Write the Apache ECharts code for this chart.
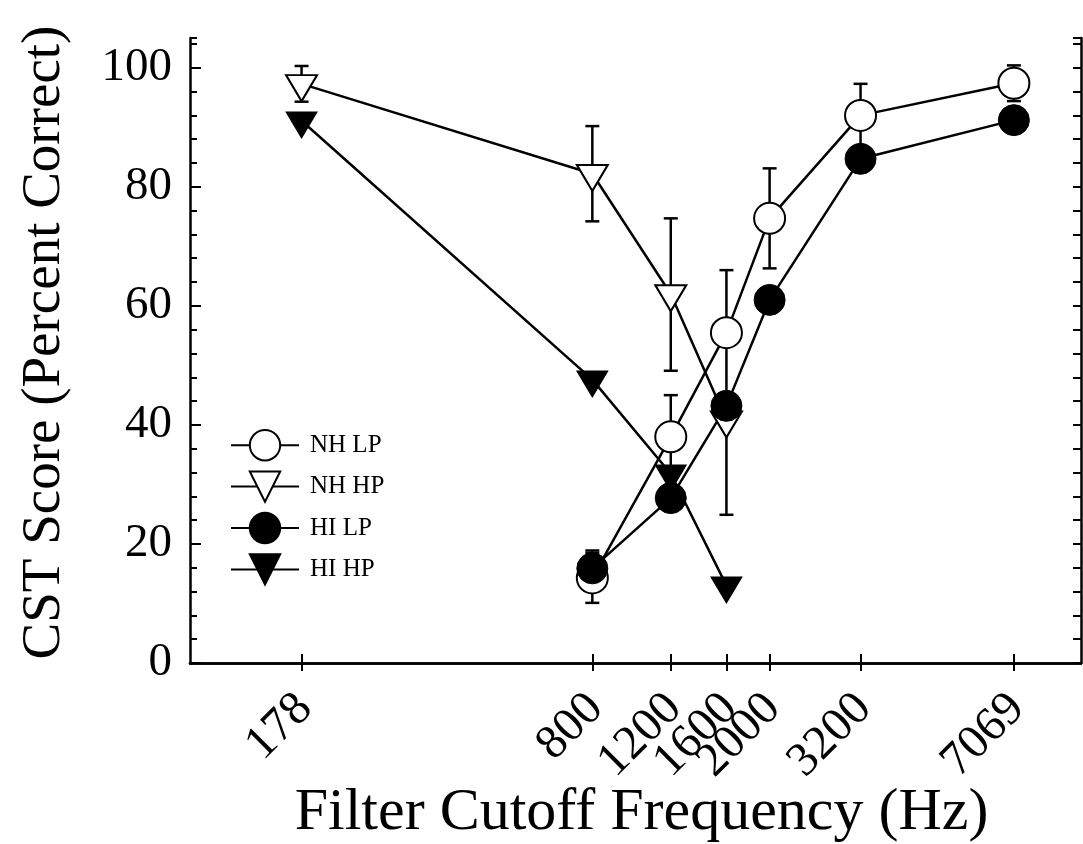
<!DOCTYPE html>
<html>
<head>
<meta charset="utf-8">
<script src="https://cdn.jsdelivr.net/npm/echarts@6/dist/echarts.min.js"></script>
<style>
  html, body { margin: 0; padding: 0; background: #fff; }
  #chart { width: 1083px; height: 844px; }
</style>
</head>
<body>
<div id="chart"></div>
<script>
// tick positions on the (log) frequency axis
const tickFreqs = [178, 800, 1200, 1600, 2000, 3200, 7069];

// NH LP - open circles
const nhLpFreq = [800, 1200, 1600, 2000, 3200, 7069];
const nhLp = [14.3, 38, 55.5, 74.7, 92, 97.4];
const nhLpErr = [4.2, 7, 1.2, 8.4, 5.3, 3];

// NH HP - open triangles
const nhHpFreq = [178, 800, 1200, 1600];
const nhHp = [97.3, 82.2, 62, 40.8];
const nhHpErrUp = [3, 8, 12.7, 25.2];
const nhHpErrDown = [3, 8, 12.9, 15.9];

// HI LP - filled circles
const hiLpFreq = [800, 1200, 1600, 2000, 3200, 7069];
const hiLp = [15.9, 27.7, 43.2, 61, 84.7, 91.2];
const hiLpErr = [3, 0, 0, 0, 0, 0];

// HI HP - filled triangles
const hiHpFreq = [178, 800, 1200, 1600];
const hiHp = [91.1, 47.6, 31.8, 13];

const FONT = "Liberation Serif";
const TRI = "path://M0,0L20,0L10,17Z";
const lg = Math.log10;

function pts(fr, vals) {
  return fr.map((f, i) => [lg(f), vals[i]]);
}
function bars(fr, vals, up, down) {
  const out = [];
  fr.forEach((f, i) => {
    if (up[i] > 0) out.push([lg(f), vals[i] - down[i], vals[i] + up[i]]);
  });
  return out;
}

function renderErr(params, api) {
  const x = api.value(0);
  const lo = api.coord([x, api.value(1)]);
  const hi = api.coord([x, api.value(2)]);
  const w = 7;
  const st = { stroke: "#000", lineWidth: 2.5 };
  return {
    type: "group",
    children: [
      { type: "line", shape: { x1: lo[0], y1: lo[1], x2: hi[0], y2: hi[1] }, style: st },
      { type: "line", shape: { x1: lo[0] - w, y1: lo[1], x2: lo[0] + w, y2: lo[1] }, style: st },
      { type: "line", shape: { x1: hi[0] - w, y1: hi[1], x2: hi[0] + w, y2: hi[1] }, style: st }
    ]
  };
}

const chart = echarts.init(document.getElementById("chart"));

const lineStyle = { color: "#000", width: 2.5 };
const xBase = { type: "value", min: 2, max: 4, splitLine: { show: false } };
const yBase = { type: "value", min: 0, max: 105, splitLine: { show: false } };

chart.setOption({
  animation: false,
  backgroundColor: "#fff",
  grid: { left: 190, right: 2, top: 38, bottom: 181, outerBoundsMode: "none", containLabel: false },
  legend: {
    orient: "vertical",
    left: 225,
    top: 424,
    itemWidth: 68,
    itemHeight: 38,
    itemGap: 9,
    selectedMode: false,
    data: ["NH LP", "NH HP", "HI LP", "HI HP"],
    textStyle: { fontFamily: FONT, fontSize: 25, color: "#000", padding: [0, 0, 0, 6] }
  },
  xAxis: [
    Object.assign({}, xBase, {
      position: "bottom",
      name: "Filter Cutoff Frequency (Hz)",
      nameLocation: "middle",
      nameGap: 120,
      nameMoveOverlap: false,
      nameTextStyle: { fontFamily: FONT, fontSize: 60, color: "#000", padding: [0, 0, 0, 12] },
      axisLine: { lineStyle: { color: "#000", width: 2.5 } },
      axisTick: { inside: true, length: 9, customValues: tickFreqs.map(lg), lineStyle: { color: "#000", width: 2 } },
      axisLabel: {
        customValues: tickFreqs.map(lg),
        formatter: v => String(Math.round(Math.pow(10, v))),
        rotate: 45, margin: 8,
        verticalAlign: "top",
        padding: [0, 19, 0, 0],
        fontFamily: FONT, fontSize: 48, color: "#000"
      }
    }),
    Object.assign({}, xBase, {
      position: "bottom",
      axisLine: { show: false },
      axisTick: { inside: false, length: 8, customValues: tickFreqs.map(lg), lineStyle: { color: "#000", width: 2 } },
      axisLabel: { show: false }
    }),
    Object.assign({}, xBase, {
      position: "top",
      axisLine: { lineStyle: { color: "#000", width: 2.5 } },
      axisTick: { inside: true, length: 8, customValues: tickFreqs.map(lg), lineStyle: { color: "#000", width: 2 } },
      axisLabel: { show: false }
    })
  ],
  yAxis: [
    Object.assign({}, yBase, {
      position: "left",
      interval: 20,
      name: "CST Score (Percent Correct)",
      nameLocation: "middle",
      nameGap: 118,
      nameMoveOverlap: false,
      nameTextStyle: { fontFamily: FONT, fontSize: 55, color: "#000", padding: [0, 0, 0, 16] },
      axisLine: { lineStyle: { color: "#000", width: 2.5 } },
      axisTick: { inside: true, length: 11, lineStyle: { color: "#000", width: 2 } },
      axisLabel: { showMaxLabel: false, margin: 18, fontFamily: FONT, fontSize: 47, color: "#000" }
    }),
    Object.assign({}, yBase, {
      position: "left",
      interval: 4,
      axisLine: { show: false },
      axisTick: { inside: true, length: 7, lineStyle: { color: "#000", width: 2 } },
      axisLabel: { show: false }
    }),
    Object.assign({}, yBase, {
      position: "right",
      interval: 4,
      axisLine: { lineStyle: { color: "#000", width: 2.5 } },
      axisTick: { inside: true, length: 8, lineStyle: { color: "#000", width: 2 } },
      axisLabel: { show: false }
    })
  ],
  series: [
    {
      type: "custom", name: "errNhHp", renderItem: renderErr, z: 1,
      data: bars(nhHpFreq, nhHp, nhHpErrUp, nhHpErrDown)
    },
    {
      type: "custom", name: "errNhLp", renderItem: renderErr, z: 1,
      data: bars(nhLpFreq, nhLp, nhLpErr, nhLpErr)
    },
    {
      type: "custom", name: "errHiLp", renderItem: renderErr, z: 1,
      data: bars(hiLpFreq, hiLp, hiLpErr, hiLpErr)
    },
    {
      name: "NH HP", type: "line", z: 3,
      symbol: TRI, symbolSize: [31, 26], symbolOffset: [0, 4.3],
      itemStyle: { color: "#fff", borderColor: "#000", borderWidth: 2 },
      lineStyle: lineStyle,
      data: pts(nhHpFreq, nhHp)
    },
    {
      name: "NH LP", type: "line", z: 3,
      symbol: "circle", symbolSize: 31,
      itemStyle: { color: "#fff", borderColor: "#000", borderWidth: 2 },
      lineStyle: lineStyle,
      data: pts(nhLpFreq, nhLp)
    },
    {
      name: "HI HP", type: "line", z: 3,
      symbol: TRI, symbolSize: [31, 26], symbolOffset: [0, 4.3],
      itemStyle: { color: "#000", borderColor: "#000", borderWidth: 1 },
      lineStyle: lineStyle,
      data: pts(hiHpFreq, hiHp)
    },
    {
      name: "HI LP", type: "line", z: 3,
      symbol: "circle", symbolSize: 31,
      itemStyle: { color: "#000", borderColor: "#000", borderWidth: 1 },
      lineStyle: lineStyle,
      data: pts(hiLpFreq, hiLp)
    }
  ]
});
</script>
</body>
</html>
